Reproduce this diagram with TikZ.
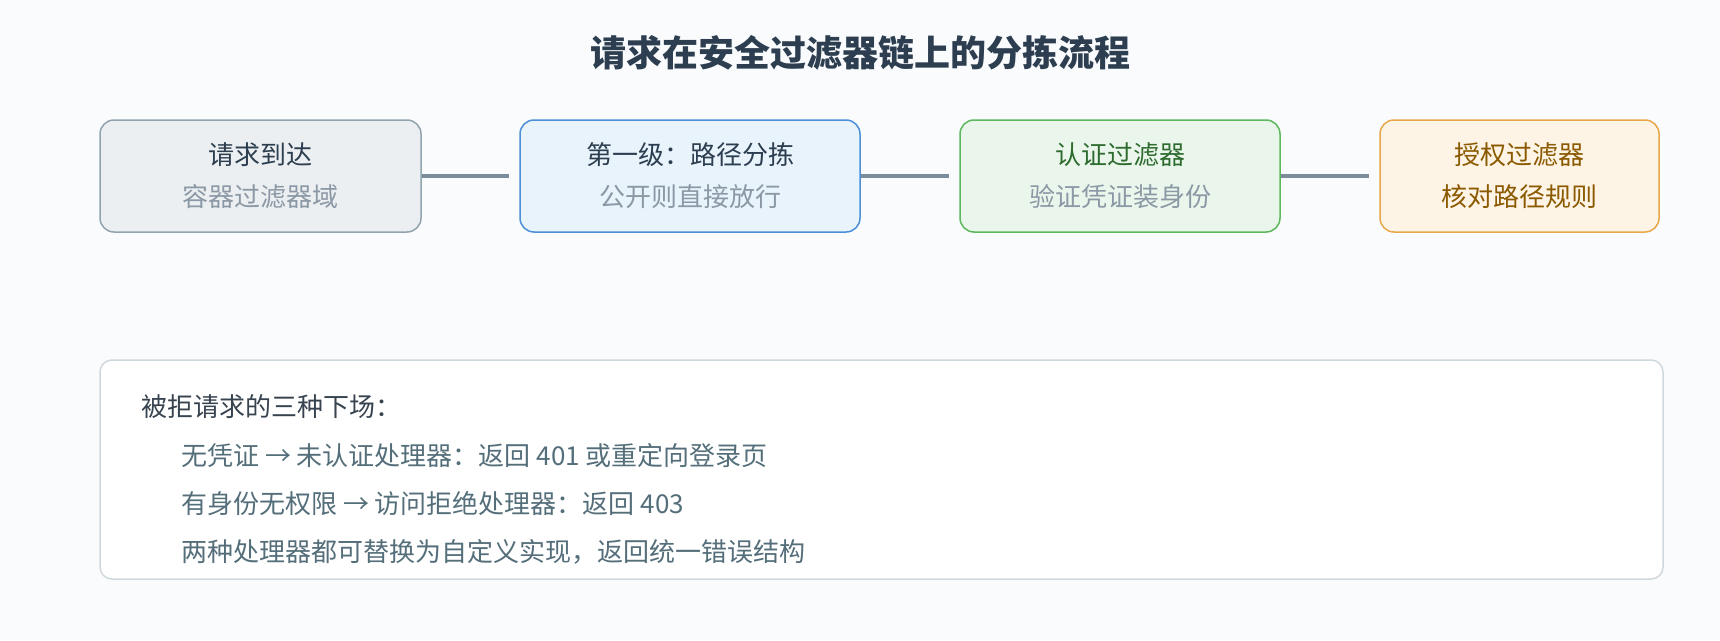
\documentclass[tikz,border=0pt]{standalone}
\usepackage{fontspec}
\setmainfont{Noto Sans CJK SC}
\begin{document}
\begin{tikzpicture}[x=1pt,y=-1pt]
\definecolor{bgc}{HTML}{F9FBFD}
\definecolor{titlec}{HTML}{2C3E50}
\definecolor{darkc}{HTML}{2C3E50}
\definecolor{subc}{HTML}{8B98A5}
\definecolor{b1d}{HTML}{90A4AE}\definecolor{b1f}{HTML}{ECEFF1}
\definecolor{b2d}{HTML}{4A8FD8}\definecolor{b2f}{HTML}{E8F3FC}
\definecolor{b3d}{HTML}{5CB85C}\definecolor{b3f}{HTML}{EAF6EC}
\definecolor{b4d}{HTML}{E8A84A}\definecolor{b4f}{HTML}{FEF4E6}
\definecolor{greenc}{HTML}{2E6B2E}
\definecolor{brownc}{HTML}{8B5A00}
\definecolor{linkc}{HTML}{7B8D9B}
\definecolor{noted}{HTML}{CFD8DC}
\definecolor{headc}{HTML}{37434F}
\definecolor{itemc}{HTML}{546E7A}
\tikzset{
  stagebox/.style={draw, line width=1.5pt, rounded corners=14pt, minimum height=112pt, align=center, font=\fontsize{26}{42}\selectfont, inner sep=0pt},
  link/.style={draw=linkc, line width=4pt},
  notetext/.style={anchor=west, font=\fontsize{26}{30}\selectfont, inner sep=0pt},
}
\useasboundingbox (0,0) rectangle (1720,640);
\fill[bgc] (0,0) rectangle (1720,640);
\node[font=\fontsize{36}{42}\selectfont\bfseries, text=titlec] (title) at (860,53) {请求在安全过滤器链上的分拣流程};
\node[stagebox, draw=b1d, fill=b1f, minimum width=321pt] (b1) at (260.5,176) {\textcolor{darkc}{请求到达}\\\textcolor{subc}{容器过滤器域}};
\node[stagebox, draw=b2d, fill=b2f, minimum width=340pt] (b2) at (690,176) {\textcolor{darkc}{第一级：路径分拣}\\\textcolor{subc}{公开则直接放行}};
\node[stagebox, draw=b3d, fill=b3f, minimum width=320pt] (b3) at (1120,176) {\textcolor{greenc}{认证过滤器}\\\textcolor{subc}{验证凭证装身份}};
\node[stagebox, draw=b4d, fill=b4f, minimum width=279pt] (b4) at (1519.5,176) {\textcolor{brownc}{授权过滤器}\\\textcolor{brownc}{核对路径规则}};
\draw[link] (b1.east) -- ([xshift=-10pt]b2.west);
\draw[link] (b2.east) -- ([xshift=-10pt]b3.west);
\draw[link] (b3.east) -- ([xshift=-10pt]b4.west);
\node[draw=noted, fill=white, line width=1.5pt, rounded corners=12pt, minimum width=1563pt, minimum height=219pt, inner sep=0pt] (note) at (881.5,469.5) {};
\node[notetext, text=headc] (n0) at (141,407) {被拒请求的三种下场：};
\node[notetext, text=itemc] (n1) at (181,456) {无凭证 → 未认证处理器：返回 401 或重定向登录页};
\node[notetext, text=itemc] (n2) at (181,504) {有身份无权限 → 访问拒绝处理器：返回 403};
\node[notetext, text=itemc] (n3) at (181,552) {两种处理器都可替换为自定义实现，返回统一错误结构};
\end{tikzpicture}
\end{document}
